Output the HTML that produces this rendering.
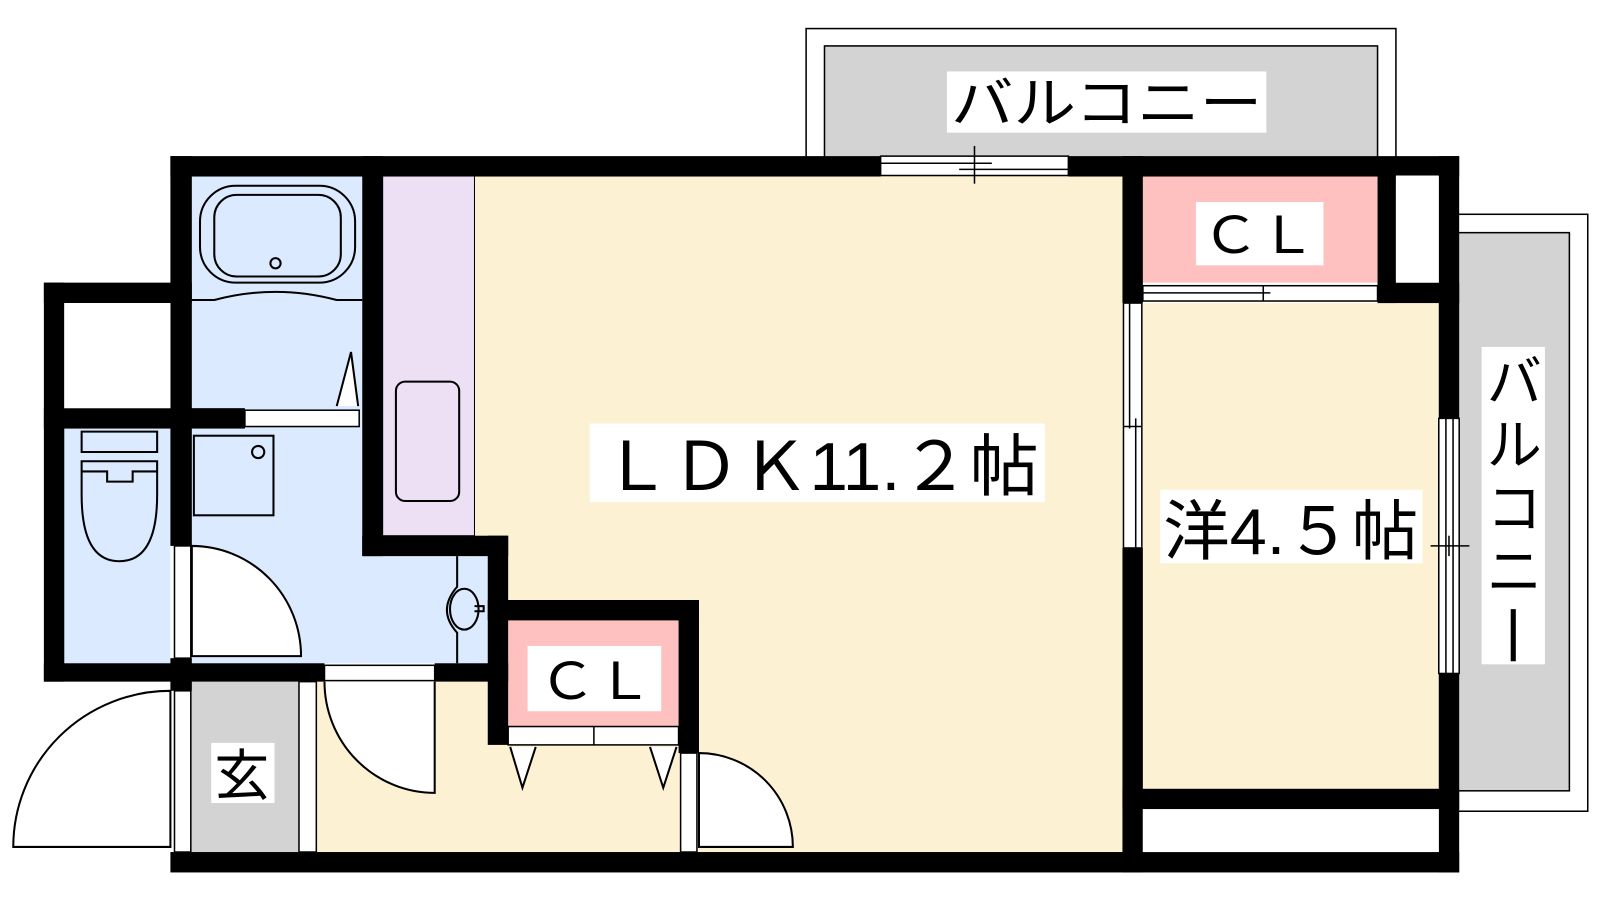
<!DOCTYPE html>
<html><head><meta charset="utf-8"><style>html,body{margin:0;padding:0;background:#fff}svg{display:block}text{font-family:"Liberation Sans","Noto Sans CJK JP",sans-serif;fill:#000}</style></head>
<body>
<svg width="1600" height="900" viewBox="0 0 1568 882" preserveAspectRatio="none" xmlns="http://www.w3.org/2000/svg">
<!-- balconies -->
<rect x="790" y="28" width="578" height="130" fill="#fff" stroke="#000" stroke-width="1.5"/>
<rect x="808" y="45" width="542" height="110" fill="#d3d3d3" stroke="#000" stroke-width="1.5"/>
<rect x="1425" y="210" width="131" height="585" fill="#fff" stroke="#000" stroke-width="1.5"/>
<rect x="1425" y="228" width="113" height="547" fill="#d3d3d3" stroke="#000" stroke-width="1.5"/>
<!-- floors -->
<rect x="465" y="172" width="635" height="663" fill="#fdf1d3"/>
<rect x="310" y="668" width="360" height="167" fill="#fdf1d3"/>
<rect x="375" y="172" width="90" height="353" fill="#ede0f5" stroke="#000" stroke-width="1"/>
<rect x="188" y="172" width="167" height="478" fill="#dbeafe"/>
<rect x="355" y="545" width="123" height="105" fill="#dbeafe"/>
<rect x="63" y="420" width="104" height="230" fill="#dbeafe"/>
<rect x="187" y="668" width="106" height="167" fill="#d3d3d3"/>
<rect x="498" y="608" width="167" height="104" fill="#ffc0c0"/>
<rect x="1120" y="172" width="230" height="105" fill="#ffc0c0"/>
<rect x="1120" y="297" width="290" height="476" fill="#fdf1d3"/>
<!-- walls -->
<g fill="#000">
<rect x="167" y="153" width="696" height="20"/>
<rect x="1047" y="153" width="383" height="20"/>
<rect x="167" y="835" width="1263" height="20"/>
<rect x="1410" y="153" width="20" height="257"/>
<rect x="1410" y="660" width="20" height="195"/>
<rect x="167" y="153" width="21" height="382"/>
<rect x="167" y="645" width="21" height="32"/>
<rect x="43" y="277" width="145" height="20"/>
<rect x="43" y="277" width="20" height="391"/>
<rect x="43" y="400" width="197" height="20"/>
<rect x="43" y="650" width="275" height="18"/>
<rect x="426" y="650" width="72" height="18"/>
<rect x="355" y="153" width="20" height="392"/>
<rect x="355" y="525" width="143" height="20"/>
<rect x="478" y="525" width="20" height="205"/>
<rect x="478" y="588" width="207" height="20"/>
<rect x="665" y="588" width="20" height="150"/>
<rect x="1100" y="153" width="20" height="144"/>
<rect x="1100" y="537" width="20" height="318"/>
<rect x="1350" y="172" width="18" height="125"/>
<rect x="1350" y="277" width="80" height="20"/>
<rect x="1100" y="773" width="330" height="20"/>
</g>
<!-- windows / sliding -->
<g fill="#fff" stroke="#000" stroke-width="1.5">
<rect x="863" y="153" width="184" height="19"/>
<line x1="863" y1="160" x2="972" y2="160"/><line x1="940" y1="166" x2="1047" y2="166"/><line x1="955" y1="143" x2="955" y2="180"/>
<rect x="1410" y="410" width="20" height="250"/>
<line x1="1417" y1="410" x2="1417" y2="660"/><line x1="1424" y1="410" x2="1424" y2="660"/><line x1="1402" y1="535" x2="1440" y2="535"/><line x1="1420" y1="525" x2="1420" y2="545"/>
<rect x="1101" y="297" width="18" height="240"/>
<line x1="1107" y1="297" x2="1107" y2="420"/><line x1="1113" y1="410" x2="1113" y2="537"/><line x1="1101" y1="418" x2="1119" y2="418"/>
<rect x="1120" y="280" width="230" height="15"/>
<line x1="1120" y1="287" x2="1245" y2="287"/><line x1="1238" y1="280" x2="1238" y2="295"/>
<rect x="498" y="712" width="167" height="18"/><line x1="582" y1="712" x2="582" y2="730"/>
<rect x="240" y="402" width="112" height="16"/>
<rect x="318" y="652" width="108" height="15"/>
<rect x="293" y="668" width="17" height="167"/>
<rect x="171" y="535" width="16" height="110"/>
<rect x="171" y="677" width="16" height="158"/>
<rect x="667" y="738" width="16" height="97"/>
<rect x="1120" y="793" width="290" height="42" stroke="none"/>
<rect x="1368" y="172" width="42" height="105" stroke="none"/>
<rect x="63" y="297" width="104" height="103" stroke="none"/>
</g>
<!-- doors -->
<g fill="#fff" stroke="#000" stroke-width="2">
<path d="M188,535 A107,108 0 0 1 295,643 L188,643 Z"/>
<path d="M167,677 A154,153 0 0 0 13,830 L167,830 Z"/>
<path d="M426,668 L426,777 A108,109 0 0 1 318,668"/>
<path d="M685,738 A92,92 0 0 1 777,830 L685,830 Z"/>
<path d="M500,732 L512,772 L525,732" fill="#fff"/>
<path d="M637,732 L650,772 L663,732" fill="#fff"/>
<path d="M330,398 L344,345 L351,398" fill="#fff"/>
</g>
<!-- fixtures -->
<g fill="none" stroke="#000" stroke-width="2">
<rect x="196" y="182" width="152" height="95" rx="35"/>
<rect x="210" y="191" width="124" height="80" rx="22"/>
<circle cx="270" cy="258" r="5"/>
<path d="M188,294 L210,294 Q270,278 330,294 L355,294"/>
<rect x="190" y="427" width="78" height="78"/>
<circle cx="253" cy="443" r="6"/>
<rect x="388" y="374" width="62" height="117" rx="9"/>
<path d="M80,423 H154 V443 H80 Z"/>
<path d="M80,452 H154 V485 Q154 550 117 550 Q80 550 80 485 Z"/>
<path d="M80,462 H105 V472 H130 V462 H154"/>
<path d="M448,545 V575 Q428 598 448 620 V650"/>
<ellipse cx="455" cy="597" rx="14" ry="20"/>
<path d="M465,594 h9 v5 h-9"/>
</g>
<!-- labels -->
<rect x="928" y="70" width="313" height="60" fill="#fff"/>
<text x="932" y="120" font-size="54" textLength="305" lengthAdjust="spacingAndGlyphs">バルコニー</text>
<rect x="1172" y="198" width="125" height="62" fill="#fff"/>
<text x="1178" y="248" font-size="50" textLength="112" lengthAdjust="spacingAndGlyphs">ＣＬ</text>
<rect x="517" y="633" width="131" height="64" fill="#fff"/>
<text x="528" y="685" font-size="50" textLength="112" lengthAdjust="spacingAndGlyphs">ＣＬ</text>
<rect x="578" y="415" width="446" height="77" fill="#fff"/>
<text x="590" y="480" font-size="66" textLength="428" lengthAdjust="spacingAndGlyphs">ＬＤＫ11.２帖</text>
<rect x="1137" y="480" width="257" height="72" fill="#fff"/>
<text x="1140" y="543" font-size="64" textLength="250" lengthAdjust="spacingAndGlyphs">洋4.５帖</text>
<rect x="207" y="728" width="62" height="59" fill="#fff"/>
<text x="210" y="779" font-size="54">玄</text>
<rect x="1452" y="340" width="62" height="311" fill="#fff"/>
<text x="1457" y="393" font-size="54">バ</text>
<text x="1457" y="455" font-size="54">ル</text>
<text x="1457" y="517" font-size="54">コ</text>
<text x="1457" y="579" font-size="54">ニ</text>
<line x1="1483" y1="597" x2="1483" y2="648" stroke="#000" stroke-width="5"/>
</svg>
</body></html>
